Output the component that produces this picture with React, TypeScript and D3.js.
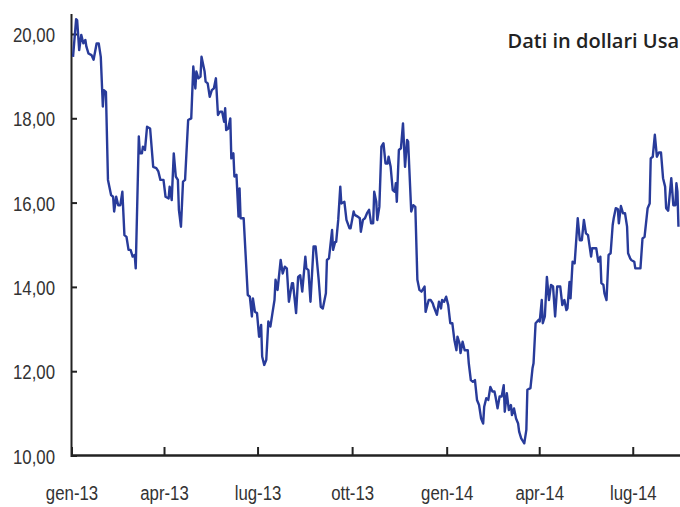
import React, { useEffect, useRef } from "react";
import * as d3 from "d3";

// prezzi giornalieri
const dates13 = [
  "2013-01-02","2013-01-05","2013-01-06","2013-01-08","2013-01-10","2013-01-12","2013-01-14","2013-01-15",
  "2013-01-17","2013-01-20","2013-01-22","2013-01-25","2013-01-27","2013-01-29","2013-01-31","2013-02-01",
  "2013-02-03","2013-02-05","2013-02-08","2013-02-10","2013-02-11","2013-02-13","2013-02-15","2013-02-17",
  "2013-02-19","2013-02-21","2013-02-23","2013-02-25","2013-02-27","2013-03-01","2013-03-03","2013-03-04",
  "2013-03-07","2013-03-08","2013-03-10","2013-03-11","2013-03-13","2013-03-15","2013-03-18","2013-03-21",
  "2013-03-24","2013-03-26","2013-03-28","2013-03-31","2013-04-02","2013-04-05","2013-04-06","2013-04-08",
  "2013-04-10","2013-04-12","2013-04-14","2013-04-15","2013-04-17","2013-04-19","2013-04-21","2013-04-24",
  "2013-04-27","2013-04-29","2013-05-01","2013-05-02","2013-05-04","2013-05-06","2013-05-07","2013-05-10",
  "2013-05-11","2013-05-13","2013-05-15","2013-05-17","2013-05-19","2013-05-21","2013-05-23","2013-05-25",
  "2013-05-27","2013-05-29","2013-05-30","2013-05-31","2013-06-02","2013-06-04","2013-06-05","2013-06-07",
  "2013-06-08","2013-06-10","2013-06-12","2013-06-13","2013-06-14","2013-06-17","2013-06-21","2013-06-23",
  "2013-06-25","2013-06-26","2013-06-28","2013-06-30","2013-07-02","2013-07-04","2013-07-05","2013-07-07",
  "2013-07-09","2013-07-11","2013-07-13","2013-07-15","2013-07-17","2013-07-18","2013-07-20","2013-07-23",
  "2013-07-25","2013-07-27","2013-07-29","2013-07-31","2013-08-03","2013-08-04","2013-08-07","2013-08-09",
  "2013-08-11","2013-08-13","2013-08-16","2013-08-17","2013-08-19","2013-08-21","2013-08-24","2013-08-26",
  "2013-08-29","2013-08-31","2013-09-02","2013-09-05","2013-09-06","2013-09-08","2013-09-11","2013-09-12",
  "2013-09-14","2013-09-15","2013-09-17","2013-09-19","2013-09-20","2013-09-23","2013-09-25","2013-09-28",
  "2013-09-29","2013-10-02","2013-10-03","2013-10-06","2013-10-08","2013-10-09","2013-10-11","2013-10-13",
  "2013-10-15","2013-10-17","2013-10-19","2013-10-21","2013-10-22","2013-10-24","2013-10-25","2013-10-27",
  "2013-10-29","2013-10-31","2013-11-02","2013-11-04","2013-11-05","2013-11-07","2013-11-09","2013-11-11",
  "2013-11-12","2013-11-13","2013-11-15","2013-11-17","2013-11-19","2013-11-21","2013-11-23","2013-11-24",
  "2013-11-27","2013-11-29","2013-12-01","2013-12-03","2013-12-05","2013-12-07","2013-12-10","2013-12-11",
  "2013-12-14","2013-12-16","2013-12-18","2013-12-19","2013-12-22","2013-12-24","2013-12-26","2013-12-27",
  "2013-12-29","2013-12-31",
];
const prices13 = [
  19.47,20.36,20.34,19.63,19.99,19.79,19.87,19.71,
  19.55,19.51,19.40,19.79,19.79,19.47,18.29,18.68,
  18.64,16.55,16.19,16.15,15.80,16.15,15.95,15.95,
  16.27,15.24,15.20,14.89,14.89,14.73,14.77,14.45,
  17.58,17.18,17.18,17.34,17.26,17.81,17.77,16.86,
  16.83,16.75,16.55,16.55,16.15,16.11,16.39,16.07,
  17.18,16.63,16.55,15.84,15.44,16.51,16.55,17.97,
  18.01,19.24,18.72,19.12,18.96,19.00,19.47,19.12,
  18.88,18.84,18.52,18.68,18.72,18.96,18.09,18.17,
  18.17,17.93,18.25,17.73,17.77,18.01,17.06,17.18,
  16.63,16.67,15.68,16.35,15.64,15.64,13.82,13.78,
  13.31,13.74,13.42,13.39,12.83,13.11,12.36,12.16,
  12.28,13.19,13.07,13.39,13.70,14.18,13.94,14.65,
  14.33,14.49,14.45,13.66,14.10,14.10,13.39,14.25,
  14.29,13.90,14.73,14.45,14.41,13.66,14.97,14.97,
  14.18,13.54,13.50,13.86,14.65,14.69,15.36,14.89,
  15.08,15.08,15.60,16.39,15.99,16.03,15.60,15.40,
  15.40,15.80,15.72,15.68,15.64,15.32,15.60,15.64,
  15.76,15.84,15.52,15.52,16.27,16.03,15.60,15.91,
  17.34,17.42,16.94,16.94,17.10,16.86,16.31,16.27,
  16.47,16.03,17.26,17.30,17.89,16.86,17.50,17.46,
  15.80,15.95,15.91,14.18,13.94,13.90,14.02,13.42,
  13.70,13.70,13.62,13.54,13.35,13.66,13.50,13.70,
  13.66,13.78,
];
const dates14 = [
  "2014-01-02","2014-01-04","2014-01-06","2014-01-08","2014-01-10","2014-01-11","2014-01-13","2014-01-14",
  "2014-01-16","2014-01-18","2014-01-21","2014-01-22","2014-01-24","2014-01-26","2014-01-28","2014-01-30",
  "2014-02-01","2014-02-03","2014-02-05","2014-02-06","2014-02-08","2014-02-10","2014-02-12","2014-02-14",
  "2014-02-16","2014-02-17","2014-02-19","2014-02-21","2014-02-23","2014-02-25","2014-02-26","2014-02-28",
  "2014-03-02","2014-03-04","2014-03-05","2014-03-07","2014-03-09","2014-03-11","2014-03-12","2014-03-14",
  "2014-03-17","2014-03-19","2014-03-20","2014-03-23","2014-03-25","2014-03-26","2014-03-28","2014-03-31",
  "2014-04-01","2014-04-03","2014-04-04","2014-04-06","2014-04-08","2014-04-10","2014-04-12","2014-04-14",
  "2014-04-16","2014-04-18","2014-04-21","2014-04-23","2014-04-25","2014-04-27","2014-04-28","2014-04-30",
  "2014-05-01","2014-05-03","2014-05-05","2014-05-08","2014-05-10","2014-05-12","2014-05-14","2014-05-16",
  "2014-05-18","2014-05-21","2014-05-22","2014-05-26","2014-05-28","2014-05-30","2014-05-31","2014-06-02",
  "2014-06-03","2014-06-05","2014-06-07","2014-06-09","2014-06-11","2014-06-12","2014-06-14","2014-06-16",
  "2014-06-17","2014-06-19","2014-06-21","2014-06-23","2014-06-25","2014-06-26","2014-06-28","2014-06-29",
  "2014-07-02","2014-07-03","2014-07-08","2014-07-10","2014-07-12","2014-07-15","2014-07-17","2014-07-18",
  "2014-07-20","2014-07-22","2014-07-24","2014-07-26","2014-07-28","2014-07-30","2014-08-01","2014-08-02",
  "2014-08-04","2014-08-05","2014-08-07","2014-08-09","2014-08-11","2014-08-12","2014-08-13","2014-08-14",
];
const prices14 = [
  13.58,13.15,13.15,12.75,12.51,12.83,12.67,12.44,
  12.71,12.51,12.51,12.20,11.80,11.76,11.80,11.33,
  11.21,10.89,10.77,11.17,11.37,11.33,11.64,11.53,
  11.53,11.41,11.13,11.41,11.41,11.68,11.05,11.49,
  11.09,11.21,10.97,11.13,10.89,10.77,10.58,10.42,
  10.30,10.62,11.57,11.61,12.08,12.20,13.15,13.23,
  13.19,13.70,13.15,13.31,14.25,13.70,14.06,14.02,
  13.31,14.02,14.02,13.58,13.70,13.46,13.50,14.13,
  13.74,14.61,14.57,15.64,15.12,15.12,15.60,15.28,
  15.24,14.73,14.93,14.93,14.61,14.73,14.10,14.06,
  13.86,13.70,14.77,14.81,15.48,15.64,15.88,15.86,
  15.52,15.93,15.76,15.76,15.44,14.81,14.69,14.65,
  14.61,14.45,14.45,15.16,15.20,15.88,15.99,17.06,
  17.10,17.62,17.10,17.20,17.20,16.59,16.39,15.88,
  15.82,16.07,16.59,15.95,15.95,16.47,16.27,15.44,
];

const tickDates = ["2013-01-01","2013-04-01","2013-07-01","2013-10-01","2014-01-01","2014-04-01","2014-07-01"];
const tickLabels = ["gen-13","apr-13","lug-13","ott-13","gen-14","apr-14","lug-14"];
const yTicks = [10, 12, 14, 16, 18, 20];
const title = "Dati in dollari Usa";

const W = 680;
const H = 507;
const parse = d3.timeParse("%Y-%m-%d");

function App() {
  const ref = useRef(null);

  useEffect(() => {
    const data = dates13.concat(dates14).map((d, i) => ({
      date: parse(d),
      value: prices13.concat(prices14)[i],
    }));

    const x = d3
      .scaleTime()
      .domain([parse("2013-01-01"), parse("2014-08-15")])
      .range([72, 679.5]);
    const y = d3.scaleLinear().domain([10, 20.5]).range([456, 13.4]);

    d3.select(ref.current).selectAll("*").remove();
    const svg = d3.select(ref.current);

    const font = "'Liberation Sans', Arial, sans-serif";

    // asse y
    svg.append("line")
      .attr("x1", 71.5).attr("x2", 71.5)
      .attr("y1", 14).attr("y2", 457)
      .attr("stroke", "#222").attr("stroke-width", 2);

    svg.selectAll(".ytick")
      .data(yTicks)
      .enter()
      .append("line")
      .attr("x1", 71).attr("x2", 77)
      .attr("y1", (d) => y(d)).attr("y2", (d) => y(d))
      .attr("stroke", "#222").attr("stroke-width", 2);

    // etichette compresse in orizzontale (carattere condensato)
    svg.selectAll(".ylab")
      .data(yTicks)
      .enter()
      .append("text")
      .attr("transform", (d) => `translate(55,${y(d)}) scale(0.8,1)`)
      .attr("dy", "0.36em")
      .attr("text-anchor", "end")
      .attr("font-family", font)
      .attr("font-size", 21)
      .attr("fill", "#333")
      .text((d) => d3.format(".2f")(d).replace(".", ","));

    // linea dei prezzi
    const line = d3
      .line()
      .x((d) => x(d.date))
      .y((d) => y(d.value));

    svg.append("path")
      .datum(data)
      .attr("d", line)
      .attr("fill", "none")
      .attr("stroke", "#283b9a")
      .attr("stroke-width", 2.4)
      .attr("stroke-linejoin", "round");

    // asse x
    svg.append("line")
      .attr("x1", 71).attr("x2", W)
      .attr("y1", 455.5).attr("y2", 455.5)
      .attr("stroke", "#222").attr("stroke-width", 2.5);

    svg.selectAll(".xtick")
      .data(tickDates)
      .enter()
      .append("line")
      .attr("x1", (d) => x(parse(d))).attr("x2", (d) => x(parse(d)))
      .attr("y1", 447).attr("y2", 456)
      .attr("stroke", "#222").attr("stroke-width", 2);

    svg.selectAll(".xlab")
      .data(tickDates)
      .enter()
      .append("text")
      .attr("transform", (d) => `translate(${x(parse(d))},500) scale(0.8,1)`)
      .attr("text-anchor", "middle")
      .attr("font-family", font)
      .attr("font-size", 21)
      .attr("fill", "#333")
      .text((d, i) => tickLabels[i]);

    svg.append("text")
      .attr("x", 679)
      .attr("y", 48)
      .attr("text-anchor", "end")
      .attr("font-family", "'Open Sans', sans-serif")
      .attr("font-weight", 600)
      .attr("font-size", 20)
      .attr("fill", "#222")
      .text(title);
  }, []);

  return (
    <svg
      ref={ref}
      width={W}
      height={H}
      style={{ position: "absolute", left: 0, top: 0, background: "#fff" }}
    />
  );
}

export default App;
